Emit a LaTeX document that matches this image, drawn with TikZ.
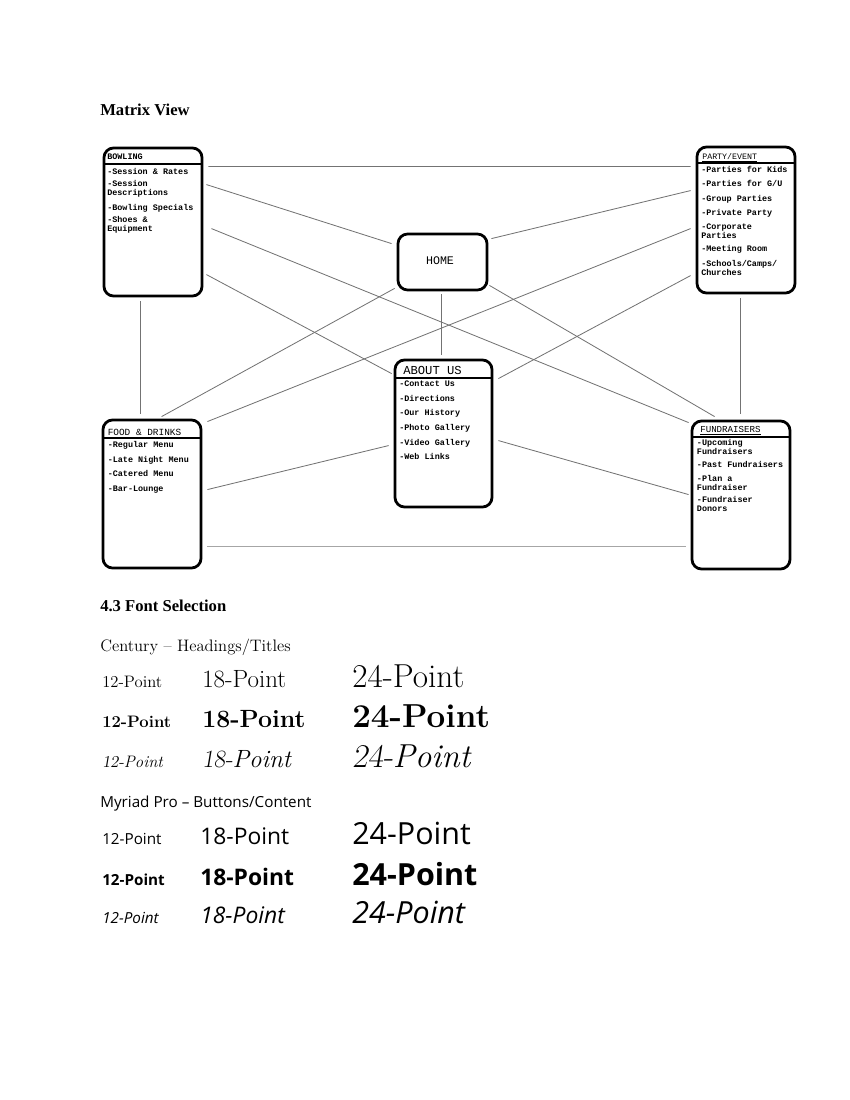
\documentclass[tikz,border=0pt]{standalone}
\usepackage{fontspec}
\newfontfamily\tnr{Liberation Serif}
\newfontfamily\mono{Liberation Mono}
\newfontfamily\myr{Open Sans}
\begin{document}
\begin{tikzpicture}[x=0.01in,y=-0.01in,
  box/.style={draw=black,line width=2pt,rounded corners=7pt,inner sep=0pt},
  conn/.style={draw=black!55,line width=0.6pt},
  hdr/.style={line width=1.8pt},
  itm/.style={anchor=base west,inner sep=0pt,align=left,font=\mono\bfseries\fontsize{6.1}{6.2}\selectfont},
  ttl/.style={anchor=base west,inner sep=0pt},
  txt/.style={anchor=base west,inner sep=0pt}]
\useasboundingbox (0,0) rectangle (850,1100);

% headings
\node[txt,font=\tnr\bfseries\fontsize{12}{14}\selectfont] (hmv) at (100,115) {Matrix View};
\node[txt,font=\tnr\bfseries\fontsize{12}{14}\selectfont] (hfs) at (100,611) {4.3 Font Selection};

% boxes
\node[box,minimum width=0.98in,minimum height=1.48in] (bowl) at (153,222) {};
\node[box,minimum width=0.98in,minimum height=1.46in] (party) at (746,220) {};
\node[box,minimum width=0.89in,minimum height=0.56in] (home) at (442.5,262) {};
\node[box,minimum width=0.97in,minimum height=1.47in] (about) at (443.5,433.5) {};
\node[box,minimum width=0.98in,minimum height=1.48in] (food) at (152,494) {};
\node[box,minimum width=0.98in,minimum height=1.48in] (fund) at (741,495) {};

% header lines
\draw[hdr] (104,164) -- (202,164);
\draw[hdr] (697,163) -- (795,163);
\draw[hdr] (395,378) -- (492,378);
\draw[hdr] (103,438) -- (201,438);
\draw[hdr] (692,437) -- (790,437);

% box texts (multi-line items are placed by their last baseline)
\node[ttl,font=\mono\bfseries\fontsize{6.1}{6.2}\selectfont] (tb) at (107,159.5) {BOWLING};
\node[itm] (b1) at (107,174) {-Session \& Rates};
\node[itm] (b2) at (107,195) {-Session\\Descriptions};
\node[itm] (b3) at (107,210) {-Bowling Specials};
\node[itm] (b4) at (107,231) {-Shoes \&\\Equipment};

\node[ttl,font=\mono\fontsize{6}{6.2}\selectfont] (tp) at (702,159) {\underline{PARTY/EVENT}};
\node[itm] (p1) at (701,172.7) {-Parties for Kids};
\node[itm] (p2) at (701,186.7) {-Parties for G/U};
\node[itm] (p3) at (701,201) {-Group Parties};
\node[itm] (p4) at (701,215) {-Private Party};
\node[itm] (p5) at (701,238.5) {-Corporate\\Parties};
\node[itm] (p6) at (701,251.7) {-Meeting Room};
\node[itm] (p7) at (701,275) {-Schools/Camps/\\Churches};

\node[anchor=base,inner sep=0pt,font=\mono\fontsize{8.4}{9}\selectfont] (th) at (440,264) {HOME};

\node[ttl,font=\mono\fontsize{8.8}{9}\selectfont] (ta) at (403,374) {ABOUT US};
\node[itm] (a1) at (399,386.7) {-Contact Us};
\node[itm] (a2) at (399,401) {-Directions};
\node[itm] (a3) at (399,415.7) {-Our History};
\node[itm] (a4) at (399,430) {-Photo Gallery};
\node[itm] (a5) at (399,445) {-Video Gallery};
\node[itm] (a6) at (399,459) {-Web Links};

\node[ttl,font=\mono\fontsize{6.8}{7}\selectfont] (tf) at (107.5,435) {FOOD \& DRINKS};
\node[itm] (f1) at (107.5,447.7) {-Regular Menu};
\node[itm] (f2) at (107.5,462.7) {-Late Night Menu};
\node[itm] (f3) at (107.5,476.7) {-Catered Menu};
\node[itm] (f4) at (107.5,491.7) {-Bar-Lounge};

\node[ttl,font=\mono\fontsize{6.6}{7}\selectfont] (tu) at (700,432) {\underline{FUNDRAISERS}};
\node[itm] (u1) at (696.7,454) {-Upcoming\\Fundraisers};
\node[itm] (u2) at (696.7,467) {-Past Fundraisers};
\node[itm] (u3) at (696.7,490) {-Plan a\\Fundraiser};
\node[itm] (u4) at (696.7,511) {-Fundraiser\\Donors};

% connectors
\draw[conn] ([shift={(5,20)}]bowl.north east) -- ([shift={(-5,21)}]party.north west);
\draw[conn] ([shift={(3,38)}]bowl.north east) -- ([shift={(-5,11)}]home.north west);
\draw[conn] ([shift={(8,82)}]bowl.north east) -- ([shift={(-2,3)}]fund.north west);
\draw[conn] ([shift={(3,128)}]bowl.north east) -- ([shift={(-2,15)}]about.north west);
\draw[conn] ([shift={(-13,4)}]bowl.south) -- ([shift={(-12,-5)}]food.north);
\draw[conn] ([shift={(-5,45)}]party.north west) -- ([shift={(3,6)}]home.north east);
\draw[conn] ([shift={(-5,83)}]party.north west) -- ([shift={(5,3)}]food.north east);
\draw[conn] ([shift={(-5,130)}]party.north west) -- ([shift={(5,20)}]about.north east);
\draw[conn] ([shift={(-6,4)}]party.south) -- ([shift={(-1,-6)}]fund.north);
\draw[conn] ([shift={(-1.5,3)}]home.south) -- ([shift={(-2.5,-4)}]about.north);
\draw[conn] ([shift={(-2,-3)}]home.south west) -- ([shift={(60,-2)}]food.north west);
\draw[conn] ([shift={(1,-6)}]home.south east) -- ([shift={(24,-3)}]fund.north west);
\draw[conn] ([shift={(-5,87)}]about.north west) -- ([shift={(5,71)}]food.north east);
\draw[conn] ([shift={(5,82)}]about.north east) -- ([shift={(-2,75)}]fund.north west);
\draw[conn,draw=black!35,line width=0.9pt] ([shift={(5,-23)}]food.south east) -- ([shift={(-5,-24)}]fund.south west);

% font selection: Century
\node[txt,font=\fontsize{12}{14}\selectfont] (c0) at (100,651) {Century -- Headings/Titles};
\node[txt,font=\fontsize{12}{14}\selectfont] (c11) at (102,687) {12-Point};
\node[txt,font=\fontsize{18}{20}\selectfont] (c12) at (202,687) {18-Point};
\node[txt,font=\fontsize{24}{28}\selectfont] (c13) at (352,687) {24-Point};
\node[txt,font=\bfseries\fontsize{12}{14}\selectfont] (c21) at (102,727) {12-Point};
\node[txt,font=\bfseries\fontsize{18}{20}\selectfont] (c22) at (202,727) {18-Point};
\node[txt,font=\bfseries\fontsize{24}{28}\selectfont] (c23) at (352,727) {24-Point};
\node[txt,font=\itshape\fontsize{12}{14}\selectfont] (c31) at (102,767) {{\slshape 12-}Point};
\node[txt,font=\itshape\fontsize{18}{20}\selectfont] (c32) at (202,767) {{\slshape 18-}Point};
\node[txt,font=\itshape\fontsize{24}{28}\selectfont] (c33) at (352,767) {{\slshape 24-}Point};

% font selection: Myriad
\node[txt,font=\myr\fontsize{11}{13}\selectfont] (m0) at (100,807) {Myriad Pro – Buttons/Content};
\node[txt,font=\myr\fontsize{11}{13}\selectfont] (m11) at (102,844) {12-Point};
\node[txt,font=\myr\fontsize{16.5}{20}\selectfont] (m12) at (200,844) {18-Point};
\node[txt,font=\myr\fontsize{22}{26}\selectfont] (m13) at (352,844) {24-Point};
\node[txt,font=\myr\bfseries\fontsize{11}{13}\selectfont] (m21) at (102,885) {12-Point};
\node[txt,font=\myr\bfseries\fontsize{16.5}{20}\selectfont] (m22) at (200,885) {18-Point};
\node[txt,font=\myr\bfseries\fontsize{22}{26}\selectfont] (m23) at (352,885) {24-Point};
\node[txt,font=\myr\itshape\fontsize{11}{13}\selectfont] (m31) at (102,923) {12-Point};
\node[txt,font=\myr\itshape\fontsize{16.5}{20}\selectfont] (m32) at (200,923) {18-Point};
\node[txt,font=\myr\itshape\fontsize{22}{26}\selectfont] (m33) at (352,923) {24-Point};
\end{tikzpicture}
\end{document}
